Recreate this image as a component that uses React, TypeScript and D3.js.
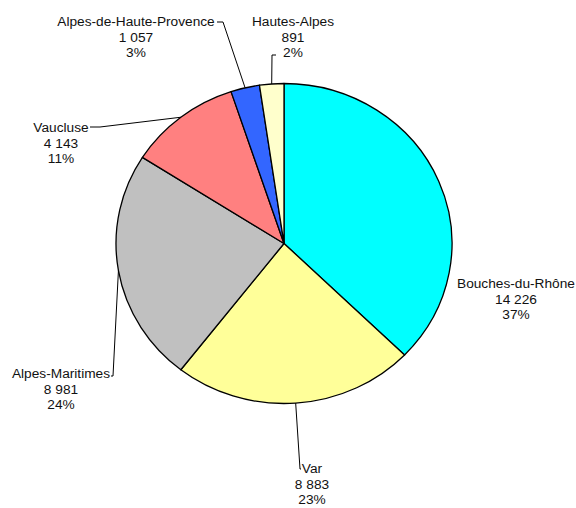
import React from "react";
import * as d3 from "d3";

const categories = ["Bouches-du-Rhône", "Var", "Alpes-Maritimes", "Vaucluse", "Alpes-de-Haute-Provence", "Hautes-Alpes"];
const values = [14226, 8883, 8981, 4143, 1057, 891];
const colors = ["#00FFFF", "#FFFF99", "#C0C0C0", "#FF8080", "#3366FF", "#FFFFCC"];

// label layout: center x, first baseline y, leader start points (in px) or null
const labelLayout: { x: number; y: number; leader: [number, number][] | null }[] = [
  { x: 516, y: 288, leader: null },
  { x: 312, y: 473, leader: [[301, 469], [300, 469]] },
  { x: 61, y: 378, leader: [[111, 376], [113, 376]] },
  { x: 61, y: 132, leader: [[90, 127], [100, 127]] },
  { x: 136, y: 26, leader: [[217, 22], [223, 22]] },
  { x: 293, y: 26, leader: [[276, 55], [272, 55]] },
];

const W = 576;
const H = 508;
const cx = 284;
const cy = 243.5;
const rx = 168;
const ry = 160;
const fontSize = 13.7;
const lineH = 15.6;

export default function App() {
  const total = d3.sum(values);
  const pie = d3.pie<number>().sort(null).value((d) => d)(values);
  const arc = d3.arc<d3.PieArcDatum<number>>().innerRadius(0).outerRadius(rx);
  const fmt = (v: number) => d3.format(",")(v).replace(/,/g, " ");
  const edgePoint = (a: number): [number, number] => [cx + rx * Math.sin(a), cy - ry * Math.cos(a)];

  return (
    <svg width={W} height={H} style={{ position: "absolute", left: 0, top: 0, background: "#fff" }}
      fontFamily="'Liberation Sans', Arial, sans-serif">
      <g transform={`translate(${cx},${cy}) scale(1,${ry / rx})`}>
        {pie.map((p, i) => (
          <path key={i} d={arc(p) || ""} fill={colors[i]} stroke="#000" strokeWidth={1.3}
            vectorEffect="non-scaling-stroke" strokeLinejoin="round" />
        ))}
      </g>
      {pie.map((p, i) => {
        const L = labelLayout[i];
        const mid = (p.startAngle + p.endAngle) / 2;
        const end = edgePoint(mid);
        const pct = Math.round((values[i] / total) * 100) + "%";
        return (
          <g key={"l" + i}>
            {L.leader && (
              <polyline
                points={[...L.leader, end].map((q) => q.join(",")).join(" ")}
                fill="none" stroke="#000" strokeWidth={1} />
            )}
            <text x={L.x} y={L.y} textAnchor="middle" fontSize={fontSize} fill="#111">
              <tspan x={L.x} dy={0}>{categories[i]}</tspan>
              <tspan x={L.x} dy={lineH}>{fmt(values[i])}</tspan>
              <tspan x={L.x} dy={lineH}>{pct}</tspan>
            </text>
          </g>
        );
      })}
    </svg>
  );
}
